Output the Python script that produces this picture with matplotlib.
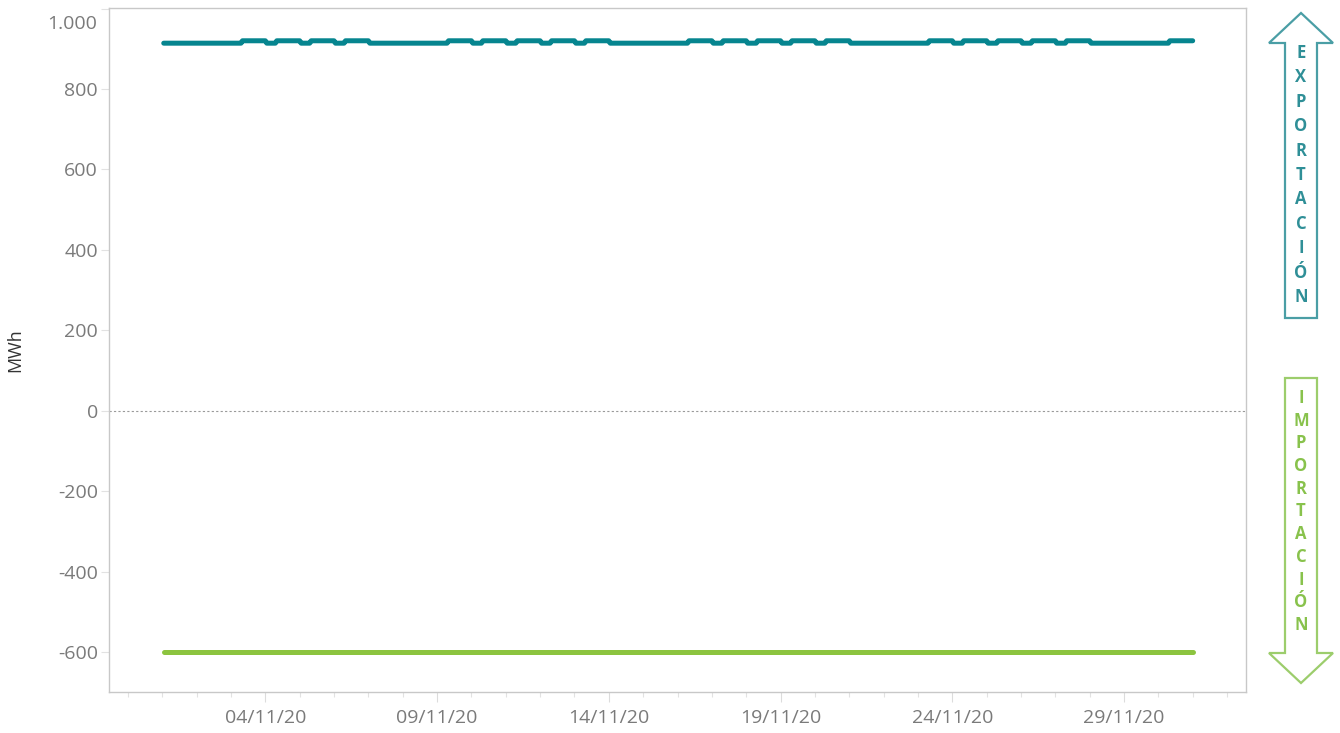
import matplotlib
matplotlib.use("Agg")
import matplotlib.pyplot as plt
import matplotlib.dates as mdates
from matplotlib.patches import Polygon
from matplotlib.ticker import FuncFormatter, FixedLocator
import numpy as np
import pandas as pd
from datetime import datetime

plt.rcParams['font.family'] = ['Open Sans', 'DejaVu Sans']

# Hourly profile for a day (hours 1..24), MWh
workday_profile = [914] * 7 + [920] * 17
offday_profile = [914] * 24

# Type of each day of November 2020 (W = working day, F = weekend/holiday)
day_types = ['F', 'F', 'W', 'W', 'W', 'W', 'F', 'F',
             'W', 'W', 'W', 'W', 'W', 'F', 'F',
             'W', 'W', 'W', 'W', 'W', 'F', 'F',
             'W', 'W', 'W', 'W', 'W', 'F', 'F', 'W']

import_level = -600

hours = pd.date_range('2020-11-01 01:00', periods=24 * len(day_types), freq='h')
exports = np.concatenate([workday_profile if d == 'W' else offday_profile
                          for d in day_types])
imports = np.full(len(hours), import_level)

teal = '#06858f'
green = '#8cc43f'
grid_grey = '#c8c8c8'
label_grey = '#7a7a7a'

fig = plt.figure(figsize=(13.4, 7.33), dpi=100)
W, H = 1340, 733
ax = fig.add_axes([109 / W, 1 - 692 / H, (1246 - 109) / W, (692 - 8) / H])

ax.plot(hours, exports, color=teal, lw=3.6, solid_capstyle='round',
        solid_joinstyle='round', zorder=3)
ax.plot(hours, imports, color=green, lw=3.6, solid_capstyle='round', zorder=3)
ax.axhline(0, color='#9a9a9a', lw=0.8, ls=(0, (2, 2)), zorder=2)

ax.set_xlim(datetime(2020, 10, 30, 10, 45), datetime(2020, 12, 2, 13, 15))
ax.set_ylim(-699.5, 1001.5)

# y axis
ax.yaxis.set_major_locator(FixedLocator(range(-600, 1001, 200)))


def thousands(v, pos):
    if v == 1000:
        return ''
    return f"{v:,.0f}".replace(',', '.')


ax.yaxis.set_major_formatter(FuncFormatter(thousands))
# top label sits a little below its tick so it stays inside the figure
ax.annotate('1.000', xy=(0, 1000), xycoords=('axes fraction', 'data'),
            xytext=(-12, -15), textcoords='offset pixels',
            ha='right', va='center', fontsize=14, color=label_grey)
ax.tick_params(axis='y', direction='out', length=6, width=0.8,
               color='#e2e2e2', labelsize=14, labelcolor=label_grey, pad=2)
ax.set_ylabel('MWh', fontsize=13, color='#333333', labelpad=24)

# x axis
ax.xaxis.set_major_locator(mdates.DayLocator(bymonthday=[4, 9, 14, 19, 24, 29]))
ax.xaxis.set_minor_locator(mdates.DayLocator())
ax.xaxis.set_major_formatter(mdates.DateFormatter('%d/%m/%y'))
ax.tick_params(axis='x', which='major', direction='out', length=7, width=0.8,
               color='#dcdcdc', labelsize=14, labelcolor=label_grey, pad=5)
ax.tick_params(axis='x', which='minor', direction='out', length=3.5, width=0.8,
               color='#e2e2e2')

for s in ax.spines.values():
    s.set_color(grid_grey)
    s.set_linewidth(1.0)


def px(x, y):
    return (x / W, 1 - y / H)


# direction arrows on the right
up = [px(1301, 13), px(1333, 43), px(1317, 43), px(1317, 318),
      px(1285, 318), px(1285, 43), px(1269, 43)]
down = [px(1285, 378), px(1317, 378), px(1317, 653), px(1333, 653),
        px(1301, 683), px(1269, 653), px(1285, 653)]
fig.patches.append(Polygon(up, closed=True, transform=fig.transFigure,
                           facecolor='white', edgecolor='#4a9ea5', lw=1.6,
                           joinstyle='miter'))
fig.patches.append(Polygon(down, closed=True, transform=fig.transFigure,
                           facecolor='white', edgecolor='#9ccd6c', lw=1.6,
                           joinstyle='miter'))

for i, ch in enumerate('EXPORTACIÓN'):
    fig.text(1301 / W, 1 - (53 + i * 24.4) / H, ch, ha='center', va='center',
             fontsize=12, fontweight='bold', color='#2f8f97')
for i, ch in enumerate('IMPORTACIÓN'):
    fig.text(1301 / W, 1 - (398 + i * 22.7) / H, ch, ha='center', va='center',
             fontsize=12, fontweight='bold', color='#88c24c')

fig.savefig('out.png', dpi=100)
